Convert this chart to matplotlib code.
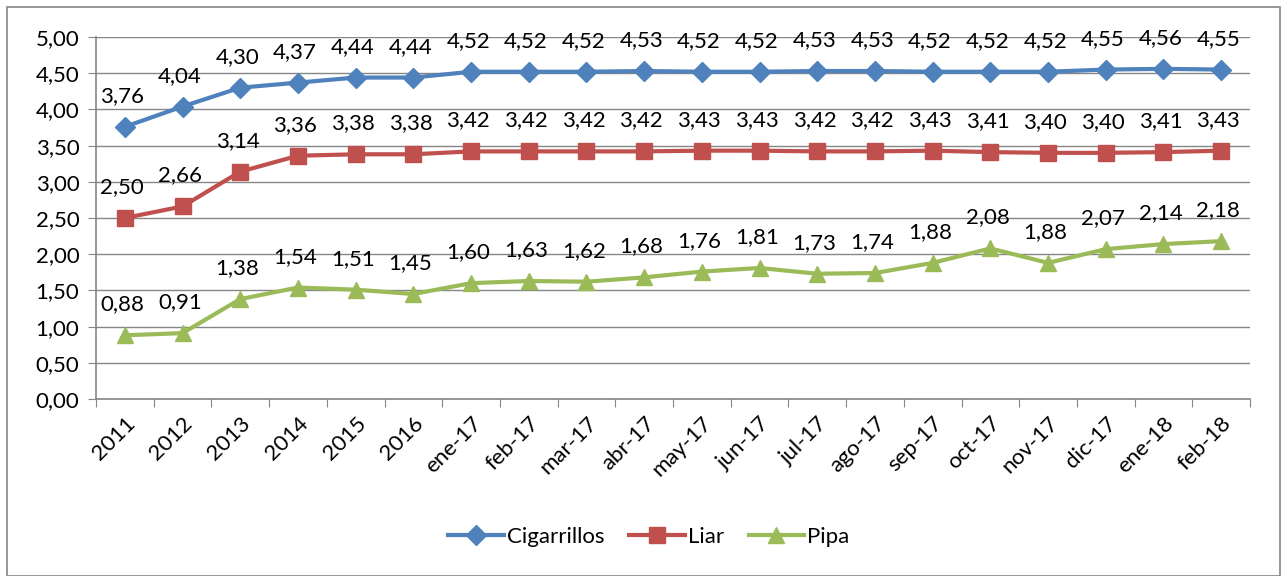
import matplotlib
matplotlib.use("Agg")
import matplotlib.pyplot as plt
from matplotlib.patches import Rectangle

plt.rcParams['font.family'] = ['Lato', 'DejaVu Sans']

categories = ["2011", "2012", "2013", "2014", "2015", "2016", "ene-17", "feb-17", "mar-17",
              "abr-17", "may-17", "jun-17", "jul-17", "ago-17", "sep-17", "oct-17", "nov-17",
              "dic-17", "ene-18", "feb-18"]
cigarrillos = [3.76, 4.04, 4.30, 4.37, 4.44, 4.44, 4.52, 4.52, 4.52, 4.53, 4.52, 4.52, 4.53,
               4.53, 4.52, 4.52, 4.52, 4.55, 4.56, 4.55]
liar = [2.50, 2.66, 3.14, 3.36, 3.38, 3.38, 3.42, 3.42, 3.42, 3.42, 3.43, 3.43, 3.42, 3.42,
        3.43, 3.41, 3.40, 3.40, 3.41, 3.43]
pipa = [0.88, 0.91, 1.38, 1.54, 1.51, 1.45, 1.60, 1.63, 1.62, 1.68, 1.76, 1.81, 1.73, 1.74,
        1.88, 2.08, 1.88, 2.07, 2.14, 2.18]
y_ticks = [0, 0.5, 1, 1.5, 2, 2.5, 3, 3.5, 4, 4.5, 5]

W, H = 1282, 576
fig = plt.figure(figsize=(W / 100, H / 100), dpi=100)
fig.patches.append(Rectangle((7 / W, 0), (W - 9) / W, (H - 7) / H, transform=fig.transFigure,
                             fill=False, edgecolor='#868686', linewidth=1.2))
ax = fig.add_axes([96 / W, 1 - 399 / H, (1250 - 96) / W, (399 - 37) / H])

x = list(range(len(categories)))
series = [("Cigarrillos", cigarrillos, '#4F81BD', 'D', 10),
          ("Liar", liar, '#C0504D', 's', 11),
          ("Pipa", pipa, '#9BBB59', '^', 11)]
for name, vals, col, mk, ms in series:
    ax.plot(x, vals, color=col, linewidth=3, marker=mk, markersize=ms, label=name,
            markeredgecolor=col, zorder=3)
    for xi, v in zip(x, vals):
        ax.annotate(f"{v:.2f}".replace('.', ','), (xi, v), xytext=(-2, 15),
                    textcoords='offset points', ha='center', va='bottom', fontsize=16,
                    color='black')

ax.set_xlim(-0.5, len(categories) - 0.5)
ax.set_ylim(0, 5)
ax.set_yticks(y_ticks)
ax.set_yticklabels([f"{t:.2f}".replace('.', ',') for t in y_ticks], fontsize=16)
ax.set_xticks([i - 0.5 for i in range(len(categories) + 1)], minor=False)
ax.set_xticklabels([])
ax.set_xticks(x, minor=True)
ax.set_xticklabels(categories, minor=True, rotation=45, ha='right', rotation_mode='anchor',
                   fontsize=16)
ax.tick_params(axis='x', which='minor', length=0, pad=10)
ax.tick_params(axis='x', which='major', length=6, color='#868686', direction='out')
ax.tick_params(axis='y', length=6, color='#868686', direction='out', pad=6)
ax.grid(axis='y', color='#868686', linewidth=1)
ax.set_axisbelow(True)
for s in ['top', 'right']:
    ax.spines[s].set_visible(False)
for s in ['left', 'bottom']:
    ax.spines[s].set_color('#868686')
    ax.spines[s].set_linewidth(1.2)

fig.legend(loc='center', bbox_to_anchor=(649 / W, 1 - 537 / H), ncol=3, frameon=False,
           fontsize=16, handlelength=2.5, columnspacing=1.1, handletextpad=0.15)

fig.savefig("out.png", dpi=100)
